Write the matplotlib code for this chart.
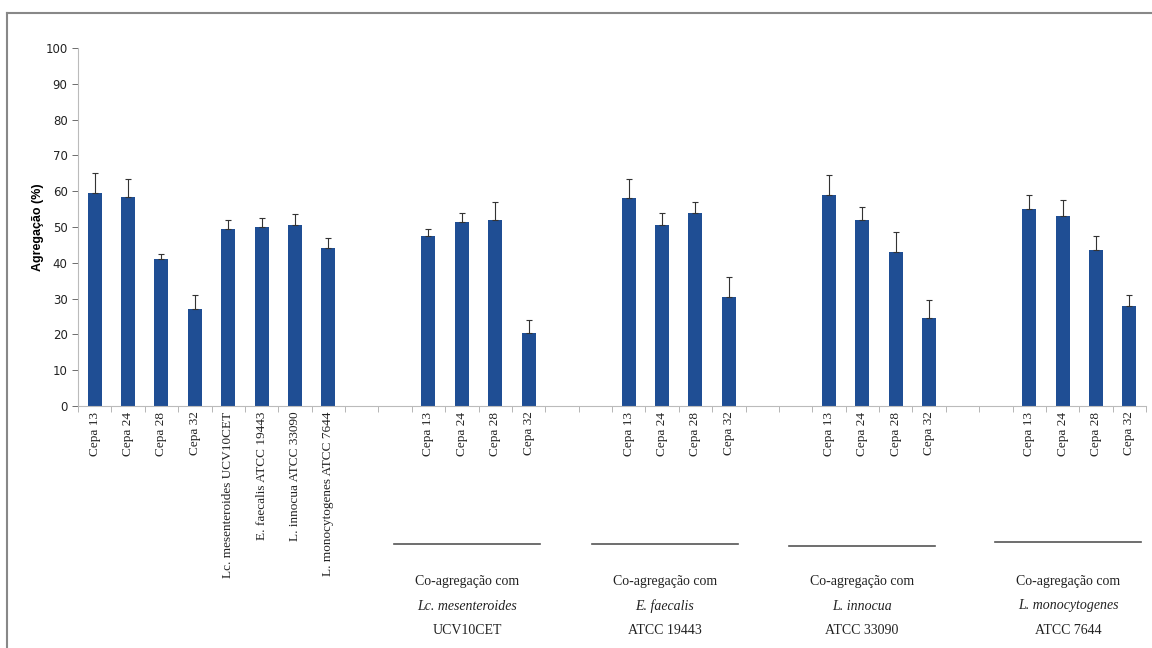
import matplotlib.pyplot as plt
from matplotlib.lines import Line2D
import numpy as np

# valores (agregacao %)
auto_labels = ['Cepa 13', 'Cepa 24', 'Cepa 28', 'Cepa 32',
               'Lc. mesenteroides UCV10CET', 'E. faecalis ATCC 19443',
               'L. innocua ATCC 33090', 'L. monocytogenes ATCC 7644']
auto_vals = [59.5, 58.5, 41, 27, 49.5, 50, 50.5, 44]
auto_err = [5.5, 5, 1.5, 4, 2.5, 2.5, 3, 3]

cepas = ['Cepa 13', 'Cepa 24', 'Cepa 28', 'Cepa 32']
co_lc = [47.5, 51.5, 52, 20.5]
co_lc_err = [2, 2.5, 5, 3.5]
co_ef = [58, 50.5, 54, 30.5]
co_ef_err = [5.5, 3.5, 3, 5.5]
co_li = [59, 52, 43, 24.5]
co_li_err = [5.5, 3.5, 5.5, 5]
co_lm = [55, 53, 43.5, 28]
co_lm_err = [4, 4.5, 4, 3]

grupos = [
    ('Lc. mesenteroides', 'UCV10CET', co_lc, co_lc_err),
    ('E. faecalis', 'ATCC 19443', co_ef, co_ef_err),
    ('L. innocua', 'ATCC 33090', co_li, co_li_err),
    ('L. monocytogenes', 'ATCC 7644', co_lm, co_lm_err),
]

# montar as posicoes: 8 barras, depois 2 vazios + 4 barras por grupo
labels = list(auto_labels)
vals = list(auto_vals)
errs = list(auto_err)
for nome, cod, v, e in grupos:
    labels += ['', ''] + cepas
    vals += [np.nan, np.nan] + v
    errs += [np.nan, np.nan] + e
x = np.arange(len(labels))
vals = np.array(vals)
errs = np.array(errs)

cor = '#1f4e94'
fig = plt.figure(figsize=(11.52, 6.48), dpi=100)
ax = fig.add_axes([78/1152, 1 - 406/648, (1146-78)/1152, (406-48)/648])

mask = ~np.isnan(vals)
ax.bar(x[mask], vals[mask], width=0.42, color=cor, zorder=2)
ax.errorbar(x[mask], vals[mask], yerr=[np.zeros(mask.sum()), errs[mask]],
            fmt='none', ecolor='#333333', elinewidth=0.8, capsize=2.5, capthick=0.8, zorder=3)

ax.set_xlim(-0.5, len(labels) - 0.5)
ax.set_ylim(0, 100)
ax.set_yticks(range(0, 101, 10))
ax.tick_params(axis='y', labelsize=8.5, colors='#555555', length=4, direction='out', width=0.6)
for t in ax.get_yticklabels():
    t.set_color('#222222')
ax.set_ylabel('Agregação (%)', fontsize=9, fontweight='bold', family='Liberation Sans', labelpad=1)

ax.set_xticks(x)
ax.set_xticklabels(labels, rotation=90, family='Liberation Serif', fontsize=9.5, color='#222222')
ax.set_xticks(np.arange(-0.5, len(labels), 1), minor=True)
ax.tick_params(axis='x', which='major', length=0, pad=4)
ax.tick_params(axis='x', which='minor', length=4, color='#aaaaaa', width=0.6)

for s in ['top', 'right']:
    ax.spines[s].set_visible(False)
ax.spines['left'].set_color('#bbbbbb')
ax.spines['bottom'].set_color('#bbbbbb')
ax.spines['left'].set_linewidth(0.8)
ax.spines['bottom'].set_linewidth(0.8)

# legendas dos grupos de co-agregacao
centros = [467, 665, 862, 1068]
linhas_y = [544, 544, 546, 542]
for (nome, cod, v, e), cx, ly in zip(grupos, centros, linhas_y):
    fx = cx / 1152
    fig.add_artist(Line2D([fx - 73/1152, fx + 73/1152], [1 - ly/648, 1 - ly/648],
                          color='#555555', lw=1.2))
    fig.text(fx, 1 - 582/648, 'Co-agregação com', ha='center', va='center',
             family='Liberation Serif', fontsize=10, color='#222222')
    fig.text(fx, 1 - 606/648, nome, ha='center', va='center', style='italic',
             family='Liberation Serif', fontsize=10, color='#222222')
    fig.text(fx, 1 - 631/648, cod, ha='center', va='center',
             family='Liberation Serif', fontsize=10, color='#222222')

# moldura (topo e esquerda)
fig.add_artist(Line2D([7/1152, 1], [1 - 13/648, 1 - 13/648], color='#888888', lw=1.5))
fig.add_artist(Line2D([7/1152, 7/1152], [0, 1 - 13/648], color='#888888', lw=1.5))

fig.savefig('out.png', dpi=100)
